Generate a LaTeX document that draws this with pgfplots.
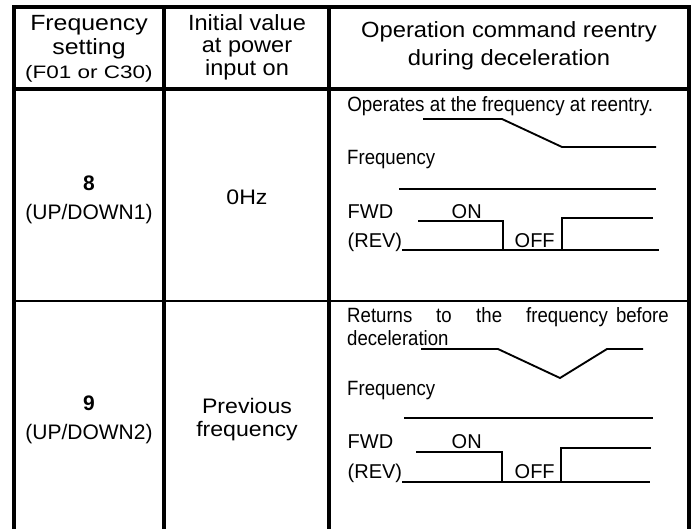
\documentclass[border=0pt]{standalone}
\usepackage{fontspec}
\setmainfont{Liberation Sans}
\usepackage{pgfplots}
\pgfplotsset{compat=1.18}
\newcommand\hf{\fontsize{16.5}{20}\selectfont}
\newcommand\hs{\fontsize{13.5}{16}\selectfont}
\newcommand\cf{\fontsize{15.75}{19}\selectfont}
\newcommand\df{\fontsize{15.5}{19}\selectfont}
\newcommand\gf{\fontsize{15}{18}\selectfont}
\begin{document}
\begin{tikzpicture}
\begin{axis}[
  scale only axis, width=525pt, height=396.75pt,
  xmin=0, xmax=700, ymin=0, ymax=529, y dir=reverse,
  hide axis, clip=true,
  every node/.style={inner sep=0pt},
]
\path (axis cs:0,0) rectangle (axis cs:700,529);
% ---- table grid ----
\addplot[black, line width=3pt] coordinates {(12,7) (691,7)};
\addplot[black, line width=3pt] coordinates {(12,89) (691,89)};
\addplot[black, line width=2.2pt] coordinates {(14,301) (689,301)};
\addplot[black, line width=3pt] coordinates {(14,5) (14,529)};
\addplot[black, line width=3pt] coordinates {(164,5) (164,529)};
\addplot[black, line width=3pt] coordinates {(329,5) (329,529)};
\addplot[black, line width=3pt] coordinates {(689,5) (689,529)};
% ---- header text ----
\node[anchor=base, font=\hf, xscale=1.13] at (axis cs:89,30.5) {Frequency};
\node[anchor=base, font=\hf, xscale=1.13] at (axis cs:89,54) {setting};
\node[anchor=base, font=\hs, xscale=1.25] at (axis cs:89,78) {(F01 or C30)};
\node[anchor=base, font=\hf, xscale=1.07] at (axis cs:247,30) {Initial value};
\node[anchor=base, font=\hf, xscale=1.07] at (axis cs:247,52.5) {at power};
\node[anchor=base, font=\hf, xscale=1.07] at (axis cs:247,75) {input on};
\node[anchor=base, font=\hf, xscale=1.08] at (axis cs:509,37) {Operation command reentry};
\node[anchor=base, font=\hf, xscale=1.08] at (axis cs:509,65) {during deceleration};
% ---- row 1 ----
\node[anchor=base, font=\cf\bfseries] at (axis cs:89,190) {8};
\node[anchor=base, font=\cf] at (axis cs:89,219) {(UP/DOWN1)};
\node[anchor=base, font=\cf, xscale=1.1] at (axis cs:247,204) {0Hz};
\node[anchor=base west, font=\df, xscale=0.91] at (axis cs:343,111) {Operates at the frequency at reentry.};
\node[anchor=base west, font=\df, xscale=0.9] at (axis cs:343,164) {Frequency};
\node[anchor=base west, font=\gf] at (axis cs:343,218) {FWD};
\node[anchor=base west, font=\gf] at (axis cs:447,218) {ON};
\node[anchor=base west, font=\gf] at (axis cs:343,247) {(REV)};
\node[anchor=base west, font=\gf] at (axis cs:510,247) {OFF};
\addplot[black, line width=1.4pt] coordinates {(423,119) (502,119) (562,147) (656,147)};
\addplot[black, line width=1.4pt] coordinates {(399,189) (656,189)};
\addplot[black, line width=1.4pt] coordinates {(418,221) (503,221) (503,250)};
\addplot[black, line width=1.4pt] coordinates {(402,250) (659,250)};
\addplot[black, line width=1.4pt] coordinates {(562,250) (562,218) (653,218)};
% ---- row 2 ----
\node[anchor=base, font=\cf\bfseries] at (axis cs:89,410) {9};
\node[anchor=base, font=\cf] at (axis cs:89,439) {(UP/DOWN2)};
\node[anchor=base, font=\cf, xscale=1.1] at (axis cs:247,413) {Previous};
\node[anchor=base, font=\cf, xscale=1.1] at (axis cs:247,436) {frequency};
\node[anchor=base west, font=\df, xscale=0.9] at (axis cs:343,322) {Returns};
\node[anchor=base west, font=\df, xscale=0.9] at (axis cs:432,322) {to};
\node[anchor=base west, font=\df, xscale=0.9] at (axis cs:472,322) {the};
\node[anchor=base west, font=\df, xscale=0.9] at (axis cs:522,322) {frequency};
\node[anchor=base east, font=\df, xscale=0.9] at (axis cs:673,322) {before};
\node[anchor=base west, font=\df, xscale=0.9] at (axis cs:343,345) {deceleration};
\node[anchor=base west, font=\df, xscale=0.9] at (axis cs:343,395) {Frequency};
\node[anchor=base west, font=\gf] at (axis cs:343,448) {FWD};
\node[anchor=base west, font=\gf] at (axis cs:447,448) {ON};
\node[anchor=base west, font=\gf] at (axis cs:343,478) {(REV)};
\node[anchor=base west, font=\gf] at (axis cs:510,478) {OFF};
\addplot[black, line width=1.4pt] coordinates {(421,349) (498,349) (560,378) (607,349) (643,349)};
\addplot[black, line width=1.4pt] coordinates {(404,418) (653,418)};
\addplot[black, line width=1.4pt] coordinates {(416,452) (502,452) (502,482)};
\addplot[black, line width=1.4pt] coordinates {(402,482) (650,482)};
\addplot[black, line width=1.4pt] coordinates {(561,482) (561,448) (651,448)};
\end{axis}
\end{tikzpicture}
\end{document}
